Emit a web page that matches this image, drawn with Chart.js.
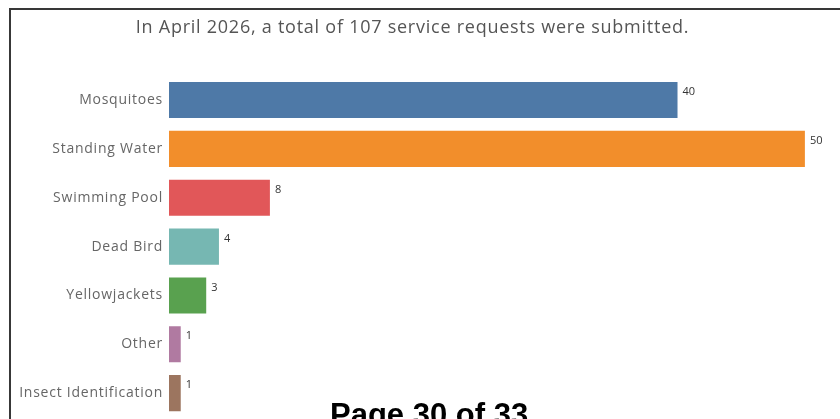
<!DOCTYPE html>
<html>
<head>
<meta charset="utf-8">
<script src="https://cdn.jsdelivr.net/npm/chart.js@4.4.1/dist/chart.umd.min.js"></script>
<style>
	html, body { margin: 0; padding: 0; background: #fff; overflow: hidden; }
	#wrap { position: relative; width: 840px; height: 419px; overflow: hidden; }
	#frame {
		position: absolute; left: 9px; top: 8px; width: 900px; height: 500px;
		border-top: 2px solid #383838; border-left: 2px solid #383838;
	}
	#chart { position: absolute; left: 0; top: 0; }
	#page {
		position: absolute; left: 330px; top: 399px;
		font: bold 31px "Liberation Sans", Arial, sans-serif; line-height: 1;
		color: #000; white-space: nowrap;
	}
</style>
</head>
<body>
<div id="wrap">
	<div id="frame"></div>
	<canvas id="chart" width="840" height="419"></canvas>
	<div id="page">Page 30 of 33</div>
</div>
<script>
const titleText = 'In April 2026, a total of 107 service requests were submitted.';
const categories = ['Mosquitoes', 'Standing Water', 'Swimming Pool', 'Dead Bird', 'Yellowjackets', 'Other', 'Insect Identification'];
const requests = [40, 50, 8, 4, 3, 1, 1];
const barColors = ['#4E79A7', '#F28E2B', '#E15759', '#76B7B2', '#59A14F', '#B07AA1', '#9C755F'];

// the reference font is a bit wider than Open Sans, so spread letters a little
const spacing = {
	id: 'spacing',
	beforeDraw(chart) {
		chart.ctx.letterSpacing = '0.75px';
	}
};

// value labels at the top right of each bar
const valueLabels = {
	id: 'valueLabels',
	afterDatasetsDraw(chart) {
		const ctx = chart.ctx;
		const meta = chart.getDatasetMeta(0);
		ctx.save();
		ctx.letterSpacing = '0px';
		ctx.font = '11px "Open Sans", sans-serif';
		ctx.fillStyle = '#333';
		ctx.textAlign = 'left';
		ctx.textBaseline = 'middle';
		meta.data.forEach((bar, i) => {
			ctx.fillText(requests[i], bar.x + 4, bar.y - 8);
		});
		ctx.restore();
	}
};

const config = {
	type: 'bar',
	data: {
		labels: categories,
		datasets: [{
			data: requests,
			backgroundColor: barColors,
			borderColor: 'rgba(255,255,255,0.35)',
			borderWidth: 1,
			barPercentage: 0.78,
			categoryPercentage: 1
		}]
	},
	plugins: [spacing, valueLabels],
	options: {
		indexAxis: 'y',
		responsive: false,
		animation: false,
		layout: {
			padding: { left: 0, right: 15, top: 0, bottom: 1.4 }
		},
		plugins: {
			legend: { display: false },
			tooltip: { enabled: false },
			title: {
				display: true,
				text: titleText,
				color: '#555',
				font: { family: '"Open Sans", sans-serif', size: 18, weight: 'normal' },
				padding: { top: 17, bottom: 37 }
			}
		},
		scales: {
			x: {
				display: false,
				min: 0,
				max: 51.5,
				grid: { display: false }
			},
			y: {
				offset: true,
				grid: { display: false, drawTicks: false },
				border: { display: false },
				ticks: {
					padding: 6,
					color: '#666',
					font: { family: '"Open Sans", sans-serif', size: 14 }
				},
				afterFit(scale) {
					scale.width = 169;
					scale.paddingTop = 0;
					scale.paddingBottom = 0;
				}
			}
		}
	}
};

new Chart(document.getElementById('chart'), config);
</script>
</body>
</html>
